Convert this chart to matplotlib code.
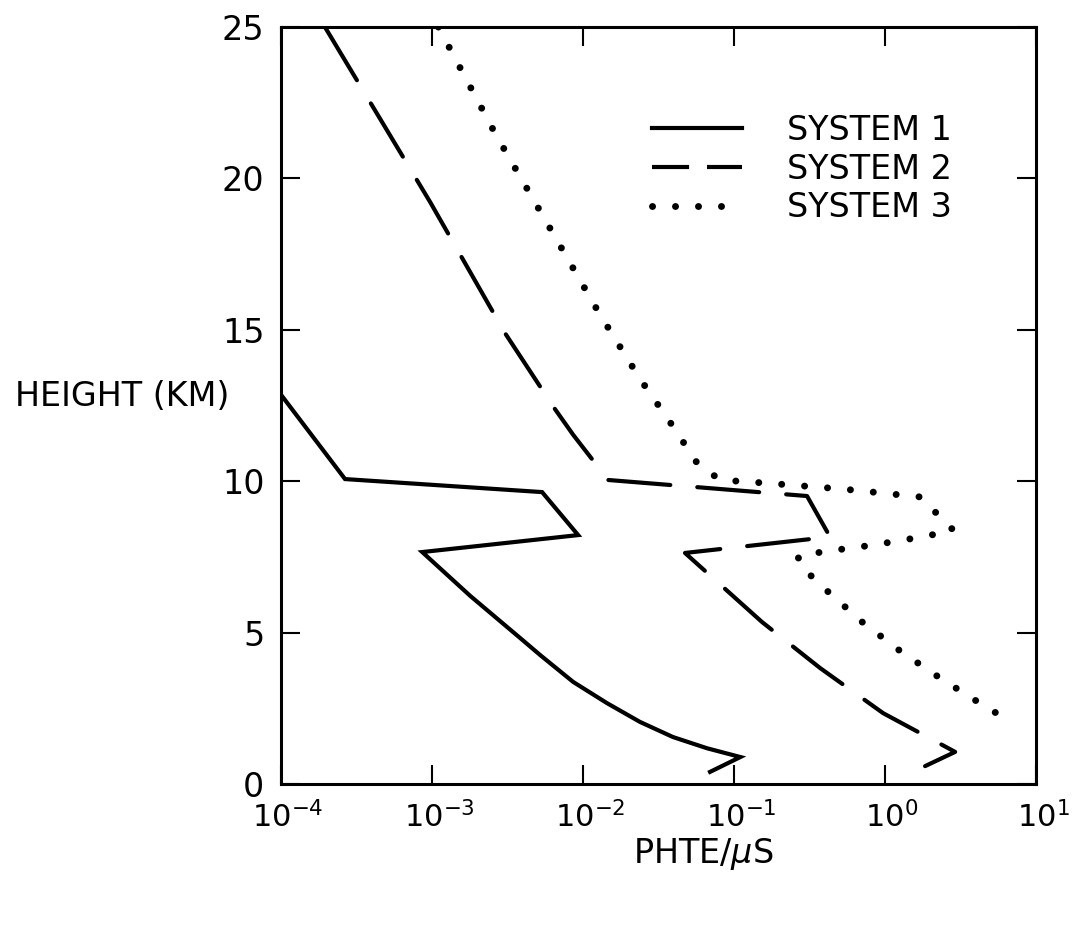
"""
Height profile of PHTE/uS for three systems (log x axis).
"""
import matplotlib
matplotlib.use('Agg')
import matplotlib.pyplot as plt
import matplotlib.transforms as mtransforms
from matplotlib.lines import Line2D

plt.rcParams['font.family'] = ['DejaVu Sans']
plt.rcParams['mathtext.fontset'] = 'dejavusans'

# (x in PHTE/uS, y in km).
sys1_x = [1.0e-4, 2.65e-4, 5.35e-3, 9.27e-3, 8.6e-4, 1.79e-3, 3.83e-3, 5.19e-3,
          8.6e-3, 0.0144, 0.0238, 0.0394, 0.0662, 0.110, 0.0693]
sys1_y = [12.85, 10.07, 9.64, 8.22, 7.66, 6.21, 4.82, 4.26,
          3.37, 2.67, 2.05, 1.55, 1.18, 0.89, 0.40]

sys2_x = [1.95e-4, 9.7e-4, 3.04e-3, 6.43e-3, 8.6e-3, 0.01466, 0.304, 0.432,
          0.0473, 0.153, 0.371, 0.97, 2.91, 1.84]
sys2_y = [25.0, 19.22, 14.89, 12.42, 11.53, 10.04, 9.51, 8.16,
          7.63, 5.35, 3.83, 2.34, 1.06, 0.59]

sys3_x = [1.10e-3, 2.65e-3, 6.24e-3, 0.01276, 0.0238, 0.0372, 0.0569, 0.0807,
          0.160, 0.527, 1.71, 2.82, 1.90, 0.834, 0.413, 0.266, 0.269, 0.366,
          0.705, 1.26, 2.31, 4.53, 6.04]
sys3_y = [25.0, 21.43, 18.23, 15.55, 13.38, 11.99, 10.60, 10.04,
          9.94, 9.74, 9.48, 8.39, 8.19, 7.89, 7.69, 7.53, 7.27, 6.61,
          5.35, 4.39, 3.50, 2.58, 2.21]

labels = ['SYSTEM 1', 'SYSTEM 2', 'SYSTEM 3']
x_ticks = [1e-4, 1e-3, 1e-2, 1e-1, 1e0, 1e1]
x_ticklabels = [r'$10^{-4}$', r'$10^{-3}$', r'$10^{-2}$', r'$10^{-1}$', r'$10^{0}$', r'$10^{1}$']
y_ticks = [0, 5, 10, 15, 20, 25]

fig = plt.figure(figsize=(10.73, 9.44), dpi=100)
ax = fig.add_axes([0.262, 0.1695, 0.7036, 0.8019])

lw = 3.0
dot_lw = 5.0
ax.plot(sys1_x, sys1_y, color='k', lw=lw, solid_joinstyle='miter')
ax.plot(sys2_x, sys2_y, color='k', lw=lw, dashes=(14.9, 6.5), dash_capstyle='round')
ax.plot(sys3_x, sys3_y, color='k', lw=dot_lw, dashes=(0.01, 3.3), dash_capstyle='round')

ax.set_xscale('log')
ax.set_xlim(1e-4, 1e1)
ax.set_ylim(0, 25)
ax.set_xticks(x_ticks)
ax.set_xticklabels(x_ticklabels)
ax.set_yticks(y_ticks)
ax.minorticks_off()
ax.tick_params(which='major', direction='in', length=14, width=1.5,
               top=True, right=True, labelsize=24)
ax.tick_params(axis='y', pad=12)
ax.tick_params(axis='x', pad=12, labelsize=22)
for spine in ax.spines.values():
    spine.set_linewidth(2.2)

# Shift the x tick labels a little right, like the hand lettering.
offset = mtransforms.ScaledTranslation(0.07, 0, fig.dpi_scale_trans)
for lab in ax.get_xticklabels():
    lab.set_transform(lab.get_transform() + offset)

handles = [
    Line2D([], [], color='k', lw=lw),
    Line2D([], [], color='k', lw=lw, dashes=(8.9, 4.3)),
    Line2D([], [], color='k', lw=dot_lw, dashes=(0.01, 3.3), dash_capstyle='round'),
]
fig.legend(handles, labels, loc='upper left',
           bbox_to_anchor=(652 / 1073, 1 - 114 / 944), bbox_transform=fig.transFigure,
           frameon=False, fontsize=24, handlelength=2.7, handletextpad=1.35,
           labelspacing=0.17, borderpad=0, borderaxespad=0)

fig.text(15 / 1073, 1 - 397 / 944, 'HEIGHT (KM)', fontsize=24, ha='left', va='center')
fig.text(703 / 1073, 1 - 854 / 944, r'PHTE/$\mu$S', fontsize=24, ha='center', va='center')

fig.savefig('out.png', dpi=100)
